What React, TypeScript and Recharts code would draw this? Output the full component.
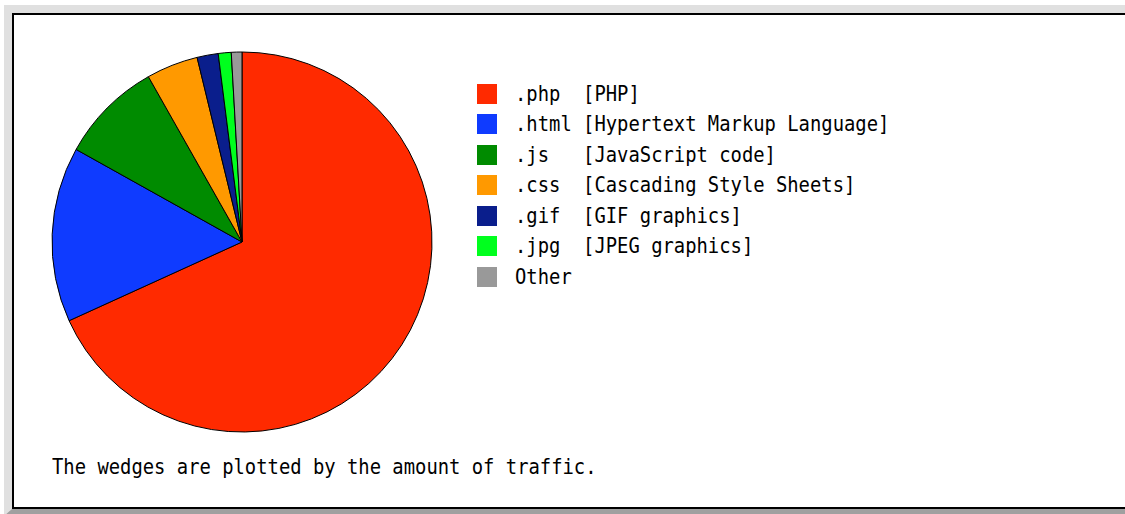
import React from 'react';
import { PieChart, Pie, Cell, Legend } from 'recharts';

const EXTENSIONS = ['.php', '.html', '.js', '.css', '.gif', '.jpg', 'Other'];
const DESCRIPTIONS = [
  '[PHP]',
  '[Hypertext Markup Language]',
  '[JavaScript code]',
  '[Cascading Style Sheets]',
  '[GIF graphics]',
  '[JPEG graphics]',
  '',
];
const TRAFFIC = [68.2, 14.9, 8.7, 4.4, 1.8, 1.1, 0.9];
const COLORS = ['#ff2a00', '#0f3bff', '#008b00', '#ff9900', '#0a1e8c', '#00ff1e', '#999999'];
const NOTE = 'The wedges are plotted by the amount of traffic.';

const data = EXTENSIONS.map((ext, i) => ({ name: ext, value: TRAFFIC[i] }));

const MONO = '"DejaVu Sans Mono", "Liberation Mono", monospace';
const FONT_SIZE = 18.85;

const renderLegend = () => (
  <div style={{ fontFamily: MONO, fontSize: FONT_SIZE, color: '#000' }}>
    {EXTENSIONS.map((ext, i) => (
      <div key={ext} style={{ display: 'flex', alignItems: 'flex-end', height: 30.5 }}>
        <span style={{ display: 'inline-block', width: 20, height: 20, background: COLORS[i], marginRight: 18 }} />
        <span style={{ whiteSpace: 'pre', display: 'inline-block', transform: 'scaleY(1.1)', transformOrigin: 'bottom', lineHeight: '20px', position: 'relative', top: 1 }}>
          {ext.padEnd(5, ' ') + (DESCRIPTIONS[i] ? ' ' + DESCRIPTIONS[i] : '')}
        </span>
      </div>
    ))}
  </div>
);

export default function App() {
  return (
    <div style={{ position: 'absolute', left: 0, top: 0, width: 1125, height: 514, overflow: 'hidden', background: '#fff' }}>
      <div
        style={{
          position: 'absolute', left: 4, top: 5, width: 1300, height: 511, boxSizing: 'border-box',
          borderStyle: 'solid', borderWidth: '8px 0 7px 8px',
          borderColor: '#e0e0e0 #e0e0e0 #a0a0a0 #e0e0e0',
        }}
      >
        <div style={{ width: '100%', height: '100%', boxSizing: 'border-box', borderStyle: 'solid', borderColor: '#000', borderWidth: '2px 0 2px 2px', background: '#fff' }} />
      </div>
      <div style={{ position: 'absolute', left: 0, top: 0 }}>
        <PieChart width={1125} height={514} margin={{ top: 0, right: 0, bottom: 0, left: 0 }}>
          <Pie
            data={data}
            dataKey="value"
            nameKey="name"
            cx={242}
            cy={242}
            outerRadius={190}
            startAngle={90}
            endAngle={-270}
            stroke="#000"
            strokeWidth={1}
            isAnimationActive={false}
          >
            {data.map((_, index) => (
              <Cell key={`cell-${index}`} fill={COLORS[index]} />
            ))}
          </Pie>
          <Legend
            layout="vertical"
            content={renderLegend}
            wrapperStyle={{ position: 'absolute', left: 477, top: 73, width: 450 }}
          />
        </PieChart>
      </div>
      <div
        style={{
          position: 'absolute', left: 52, top: 458, fontFamily: MONO, fontSize: FONT_SIZE, whiteSpace: 'pre',
          transform: 'scaleY(1.1)', transformOrigin: 'bottom', lineHeight: '20px', color: '#000',
        }}
      >
        {NOTE}
      </div>
    </div>
  );
}
